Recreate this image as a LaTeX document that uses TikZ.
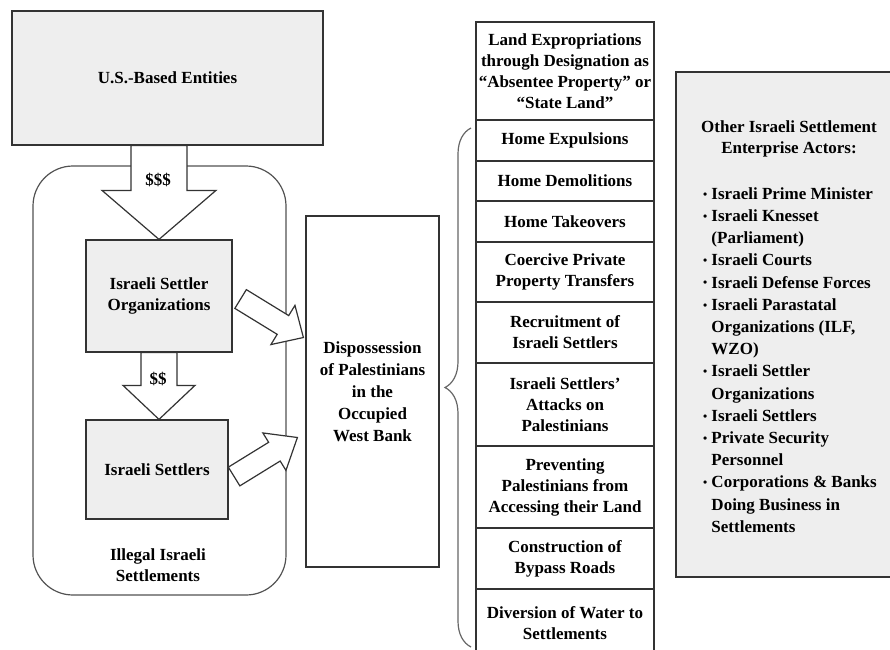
\documentclass[tikz,border=0pt]{standalone}
\usepackage{fontspec}
\setmainfont{Liberation Serif}
\usepackage{tikz}
\usetikzlibrary{calc,decorations.pathreplacing}

\definecolor{boxgray}{HTML}{EEEEEE}
\definecolor{linegray}{HTML}{333333}

\newcommand{\fatarrow}[5]{%
  \coordinate (hb) at ($(#2)!#5!(#1)$);
  \draw[fatline] ($(#1)!#3!90:(#2)$) -- ($(hb)!#3!90:(#2)$) -- ($(hb)!#4!90:(#2)$) -- (#2)
    -- ($(hb)!#4!-90:(#2)$) -- ($(hb)!#3!-90:(#2)$) -- ($(#1)!#3!-90:(#2)$) -- cycle;}
\newcommand{\dotmark}{\raisebox{0.15ex}{\scalebox{0.7}{\textbullet}}}
\newcommand{\bulind}{\phantom{\dotmark\ }}

\begin{document}
\begin{tikzpicture}[x=0.5pt,y=-0.5pt,
    every node/.style={font=\fontsize{8.5}{10.5}\selectfont\bfseries, align=center},
    graybox/.style={draw=linegray, line width=0.6pt, fill=boxgray, inner sep=0pt},
    whitebox/.style={draw=linegray, line width=0.6pt, fill=white, inner sep=0pt},
    row/.style={whitebox, minimum width=89pt},
    fatline/.style={draw=linegray, line width=0.6pt, fill=white, line join=miter},
    zone/.style={draw=linegray!85, line width=0.6pt, rounded corners=20pt},
    bracket/.style={decorate, decoration={brace, amplitude=13pt}, draw=linegray!75, line width=0.6pt}]
        \useasboundingbox (0,0) rectangle (890,649);

        \node[zone, minimum width=126.5pt, minimum height=214.5pt] (zone) at (159.5,380.5) {};
        \node (zonelbl) at (158,565) {Illegal Israeli\\Settlements};

        \node[graybox, minimum width=155.5pt, minimum height=67pt] (us) at (167.5,78) {U.S.-Based Entities};
        \node[graybox, minimum width=73pt, minimum height=56pt] (org) at (159,296) {Israeli Settler\\Organizations};
        \node[graybox, minimum width=71pt, minimum height=49.5pt] (set) at (157,469.5) {Israeli Settlers};
        \node[whitebox, minimum width=66.5pt, minimum height=175.5pt, font=\fontsize{8.5}{11}\selectfont\bfseries] (disp) at (372.5,391.5)
            {Dispossession\\of Palestinians\\in the\\Occupied\\West Bank};

        \coordinate (a1s) at (org.north |- us.south);
        \fatarrow{a1s}{org.north}{14pt}{28.5pt}{24.5pt}
        \node (money1) at (158,180) {\$\$\$};
        \coordinate (a2e) at (org.south |- set.north);
        \fatarrow{org.south}{a2e}{9pt}{18pt}{17pt}
        \node (money2) at (158,379) {\$\$};

        \coordinate (a3s) at ($(org.east)+(8,3)$);
        \coordinate (a3e) at ($(disp.west)+(-2,-54)$);
        \fatarrow{a3s}{a3e}{5.5pt}{11.5pt}{12pt}
        \coordinate (a4s) at ($(set.east)+(5.5,7)$);
        \coordinate (a4e) at ($(disp.west)+(-8,46)$);
        \fatarrow{a4s}{a4e}{5.5pt}{11pt}{13.5pt}

        \node[row, minimum height=49pt] (r0) at (565,71) {Land Expropriations\\through Designation as\\“Absentee Property” or\\“State Land”};
        \node[row, minimum height=20.5pt] (r1) at (565,140.5) {Home Expulsions};
        \node[row, minimum height=20pt] (r2) at (565,181) {Home Demolitions};
        \node[row, minimum height=20.5pt] (r3) at (565,221.5) {Home Takeovers};
        \node[row, minimum height=30pt] (r4) at (565,272) {Coercive Private\\Property Transfers};
        \node[row, minimum height=30.5pt] (r5) at (565,332.5) {Recruitment of\\Israeli Settlers};
        \node[row, minimum height=41.5pt] (r6) at (565,404.5) {Israeli Settlers’\\Attacks on\\Palestinians};
        \node[row, minimum height=41pt] (r7) at (565,487) {Preventing\\Palestinians from\\Accessing their Land};
        \node[row, minimum height=30.5pt] (r8) at (565,558.5) {Construction of\\Bypass Roads};
        \node[row, minimum height=34pt] (r9) at (565,623) {Diversion of Water to\\Settlements};

        \coordinate (brbot) at (471,647);
        \coordinate (brtop) at (471,128);
        \draw[bracket] (brbot) -- (brtop);

        \node[graybox, minimum width=115pt, minimum height=252.5pt] (actors) at (791,324.5) {};
        \node (actorshead) at (789,138.5) {Other Israeli Settlement\\Enterprise Actors:};
        \node[align=left, anchor=west, font=\fontsize{8.5}{11.1}\selectfont\bfseries] (actorslist) at (696,360) {%
            \dotmark\ Israeli Prime Minister\\
            \dotmark\ Israeli Knesset\\
            \bulind(Parliament)\\
            \dotmark\ Israeli Courts\\
            \dotmark\ Israeli Defense Forces\\
            \dotmark\ Israeli Parastatal\\
            \bulind Organizations (ILF,\\
            \bulind WZO)\\
            \dotmark\ Israeli Settler\\
            \bulind Organizations\\
            \dotmark\ Israeli Settlers\\
            \dotmark\ Private Security\\
            \bulind Personnel\\
            \dotmark\ Corporations \& Banks\\
            \bulind Doing Business in\\
            \bulind Settlements};
    \end{tikzpicture}
\end{document}
